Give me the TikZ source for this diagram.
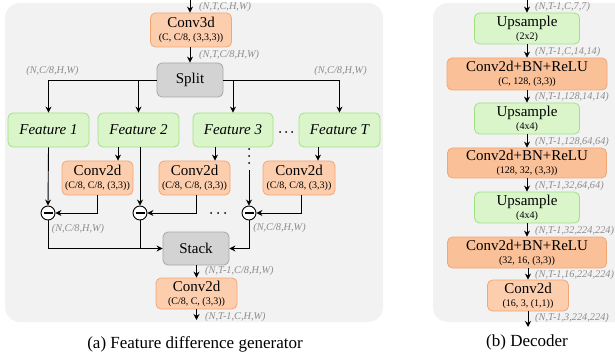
\documentclass[tikz,border=0pt]{standalone}
\usepackage{fontspec}
\setmainfont{Liberation Serif}
\usetikzlibrary{arrows.meta}
\definecolor{orF}{RGB}{252,206,174}
\definecolor{orD}{RGB}{242,166,116}
\definecolor{bnF}{RGB}{250,192,152}
\definecolor{grF}{RGB}{218,245,202}
\definecolor{grD}{RGB}{160,226,130}
\definecolor{gyF}{RGB}{211,211,211}
\definecolor{gyD}{RGB}{168,168,168}
\definecolor{bgF}{RGB}{242,242,242}
\definecolor{lblC}{RGB}{140,140,140}
\newcommand\mainsz{\fontsize{15}{16}\selectfont}
\newcommand\smsz{\fontsize{10}{11}\selectfont}
\newcommand\capsz{\fontsize{17}{19}\selectfont}
\begin{document}
\begin{tikzpicture}[x=1pt,y=-1pt,
  box/.style={rounded corners=5pt, line width=0.8pt, align=center, inner sep=0pt, font=\mainsz},
  orbox/.style={box, fill=orF, draw=orD},
  bnbox/.style={box, fill=bnF, draw=orD},
  grbox/.style={box, fill=grF, draw=grD},
  gybox/.style={box, fill=gyF, draw=gyD},
  minus/.style={circle, draw, fill=white, line width=0.9pt, minimum size=14pt, inner sep=0pt,
    path picture={\draw[line width=1.3pt] ([xshift=-4.5pt]path picture bounding box.center) -- ([xshift=4.5pt]path picture bounding box.center);}},
  lbl/.style={font=\fontsize{10.3}{12}\selectfont\itshape, text=lblC, inner sep=0pt},
  arr/.style={-{Stealth[length=6pt,width=6pt]}, line width=0.9pt},
  ln/.style={line width=0.9pt},
  dot/.style={fill, circle, inner sep=0pt, minimum size=2pt},
  panel/.style={fill=bgF, rounded corners=15pt}
]
\useasboundingbox (0,0) rectangle (615,358);
\path[panel] (5,3) rectangle (383,322);
\path[panel] (433,3) rectangle (640,322);

% ---------- Left panel ----------
\coordinate (inA) at (190,0);
\node[orbox, minimum width=81pt, minimum height=34pt] (conv3d) at (191,30) {Conv3d\\[-3pt]{\smsz (C, C/8, (3,3,3))}};
\node[gybox, minimum width=66pt, minimum height=34pt] (split) at (190,80) {Split};
\node[grbox, minimum width=81pt, minimum height=34pt] (f1) at (48.5,130) {\itshape Feature 1};
\node[grbox, minimum width=81pt, minimum height=34pt] (f2) at (138.5,130) {\itshape Feature 2};
\node[grbox, minimum width=80pt, minimum height=34pt] (f3) at (233,130) {\itshape Feature 3};
\node[grbox, minimum width=81pt, minimum height=34pt] (fT) at (339.5,130) {\itshape Feature T};
\node[dot] (h1) at (280,132) {};
\node[dot] (h2) at (286,132) {};
\node[dot] (h3) at (292,132) {};
\node[orbox, minimum width=71pt, minimum height=34pt] (c1) at (97.5,178) {Conv2d\\[-3pt]{\smsz (C/8, C/8, (3,3))}};
\node[orbox, minimum width=71pt, minimum height=34pt] (c2) at (194.5,178) {Conv2d\\[-3pt]{\smsz (C/8, C/8, (3,3))}};
\node[orbox, minimum width=72pt, minimum height=34pt] (c3) at (299,178) {Conv2d\\[-3pt]{\smsz (C/8, C/8, (3,3))}};
\node[minus] (m1) at (48,213) {};
\node[minus] (m2) at (140,213) {};
\node[minus] (m3) at (249,213) {};
\node[dot] (d1) at (211,213) {};
\node[dot] (d2) at (218,213) {};
\node[dot] (d3) at (225,213) {};
\node[dot] (v1) at (249,149) {};
\node[dot] (v2) at (249,156) {};
\node[dot] (v3) at (249,163) {};
\coordinate (vd) at (249,170);
\node[gybox, minimum width=66pt, minimum height=33pt] (stack) at (196,248.5) {Stack};
\node[orbox, minimum width=81pt, minimum height=31pt] (cf) at (196.5,293.5) {Conv2d\\[-3pt]{\smsz (C/8, C, (3,3))}};
\coordinate (outA) at (196.5,320);

\draw[arr] (inA) -- (conv3d.north -| inA);
\draw[arr] (conv3d.south -| split) -- (split.north);
\draw[arr] (split.west) -| (f1.north);
\draw[arr] (split.west) -| (f2.north);
\draw[arr] (split.east) -| (f3.north);
\draw[arr] (split.east) -| (fT.north);
\draw[arr] (f1.south) -- (m1.north);
\draw[arr] (m2 |- f2.south) -- (m2.north);
\draw[arr] ([xshift=-20.5pt]f2.south) -- ([xshift=-20.5pt]f2.south |- c1.north);
\draw[arr] ([xshift=-18pt]f3.south) -- ([xshift=-18pt]f3.south |- c2.north);
\draw[arr] ([xshift=-21.5pt]fT.south) -- ([xshift=-21.5pt]fT.south |- c3.north);
\draw[arr] (vd) -- (m3.north);
\draw[arr] (c1.south) |- (m1.east);
\draw[arr] ([xshift=2pt]c2.south) |- (m2.east);
\draw[arr] ([xshift=2pt]c3.south) |- (m3.east);
\draw[arr] (m1.south) |- (stack.west);
\draw[ln] (m2.south) -- (m2 |- stack.west);
\draw[arr] (m3.south) |- (stack.east);
\draw[arr] (stack.south -| cf) -- (cf.north);
\draw[arr] (cf.south) -- (outA);

\node[lbl, anchor=west] at (199,7) {(N,T,C,H,W)};
\node[lbl, anchor=west] at (199,55) {(N,T,C/8,H,W)};
\node[lbl] at (52.5,71) {(N,C/8,H,W)};
\node[lbl] at (340.5,71) {(N,C/8,H,W)};
\node[lbl] at (78,229) {(N,C/8,H,W)};
\node[lbl] at (279.5,228) {(N,C/8,H,W)};
\node[lbl, anchor=west] at (205,271) {(N,T-1,C/8,H,W)};
\node[lbl, anchor=west] at (205,317) {(N,T-1,C,H,W)};

\node[font=\capsz] (capA) at (195,344) {(a) Feature difference generator};

% ---------- Right panel ----------
\coordinate (inB) at (527,0);
\node[grbox, minimum width=105pt, minimum height=31pt] (u1) at (527,28.5) {Upsample\\[-3pt]{\smsz (2x2)}};
\node[bnbox, minimum width=160pt, minimum height=32pt] (b1) at (527,74) {Conv2d+BN+ReLU\\[-3pt]{\smsz (C, 128, (3,3))}};
\node[grbox, minimum width=105pt, minimum height=31pt] (u2) at (527,118.5) {Upsample\\[-3pt]{\smsz (4x4)}};
\node[bnbox, minimum width=159pt, minimum height=30pt] (b2) at (527,163) {Conv2d+BN+ReLU\\[-3pt]{\smsz (128, 32, (3,3))}};
\node[grbox, minimum width=105pt, minimum height=31pt] (u3) at (527,207.5) {Upsample\\[-3pt]{\smsz (4x4)}};
\node[bnbox, minimum width=159pt, minimum height=31pt] (b3) at (527,252.5) {Conv2d+BN+ReLU\\[-3pt]{\smsz (32, 16, (3,3))}};
\node[orbox, minimum width=81pt, minimum height=31pt] (cd) at (528,295.5) {Conv2d\\[-3pt]{\smsz (16, 3, (1,1))}};
\coordinate (outB) at (528,327);

\draw[arr] (inB) -- (u1.north);
\draw[arr] (u1.south) -- (b1.north);
\draw[arr] (b1.south) -- (u2.north);
\draw[arr] (u2.south) -- (b2.north);
\draw[arr] (b2.south) -- (u3.north);
\draw[arr] (u3.south) -- (b3.north);
\draw[arr] (b3.south -| cd) -- (cd.north);
\draw[arr] (cd.south) -- (outB);

\node[lbl, anchor=west] at (535,7) {(N,T-1,C,7,7)};
\node[lbl, anchor=west] at (535,52) {(N,T-1,C,14,14)};
\node[lbl, anchor=west] at (535,97) {(N,T-1,128,14,14)};
\node[lbl, anchor=west] at (535,142) {(N,T-1,128,64,64)};
\node[lbl, anchor=west] at (535,186) {(N,T-1,32,64,64)};
\node[lbl, anchor=west] at (535,231) {(N,T-1,32,224,224)};
\node[lbl, anchor=west] at (535,275) {(N,T-1,16,224,224)};
\node[lbl, anchor=west] at (535,318) {(N,T-1,3,224,224)};

\node[font=\capsz] (capB) at (527,342) {(b) Decoder};
\end{tikzpicture}
\end{document}
